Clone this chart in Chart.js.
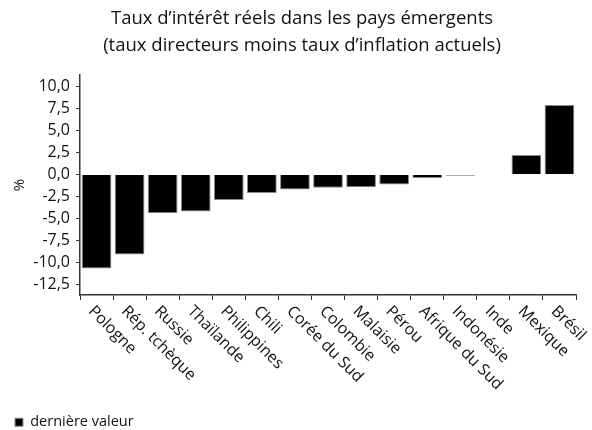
<!DOCTYPE html>
<html lang="fr">
<head>
<meta charset="utf-8">
<title>Taux d'intérêt réels</title>
<script src="https://cdn.jsdelivr.net/npm/chart.js@4.4.1/dist/chart.umd.min.js"></script>
<style>
  html, body { margin: 0; padding: 0; background: #fff; }
  #cadre { width: 592px; height: 430px; }
</style>
</head>
<body>
<div id="cadre"><canvas id="grafique"></canvas></div>
<script>
const pays = ["Pologne", "Rép. tchèque", "Russie", "Thaïlande", "Philippines", "Chili",
    "Corée du Sud", "Colombie", "Malaisie", "Pérou", "Afrique du Sud", "Indonésie",
    "Inde", "Mexique", "Brésil"];
const derniereValeur = [-10.7, -9.1, -4.4, -4.2, -2.9, -2.1, -1.7, -1.5, -1.45, -1.15,
    -0.4, -0.15, 0.05, 2.2, 7.9];
const graduationsY = [10, 7.5, 5, 2.5, 0, -2.5, -5, -7.5, -10, -12.5];
const titre = ["Taux d’intérêt réels dans les pays émergents",
    "(taux directeurs moins taux d’inflation actuels)"];
const police = '"Open Sans", "DejaVu Sans", sans-serif';

// les libellés des pays penchent vers le bas à droite, Chart.js ne sait pas le faire
const etiquettesX = {
    id: "etiquettesX",
    afterDraw(chart) {
        const ctx = chart.ctx;
        const axeX = chart.scales.x;
        ctx.save();
        ctx.font = "16px " + police;
        ctx.fillStyle = "#111";
        ctx.textAlign = "left";
        ctx.textBaseline = "top";
        pays.forEach((nom, i) => {
            ctx.save();
            ctx.translate(axeX.getPixelForValue(i), axeX.top + 8);
            ctx.rotate(Math.PI / 4);
            ctx.fillText(nom, 0, 0);
            ctx.restore();
        });
        ctx.restore();
    },
};

new Chart(document.getElementById("grafique"), {
    type: "bar",
    data: {
        labels: pays,
        datasets: [
            {
                label: "dernière valeur",
                data: derniereValeur,
                backgroundColor: "#000",
                borderColor: "#8c8c8c",
                borderWidth: 1,
                barPercentage: 0.9,
                categoryPercentage: 1.0,
            },
        ],
    },
    options: {
        responsive: true,
        maintainAspectRatio: false,
        animation: false,
        layout: { padding: { left: 12, right: 0, top: 0, bottom: 0 } },
        plugins: {
            title: {
                display: true,
                text: titre,
                color: "#111",
                font: { family: police, size: 18.5, weight: "normal", lineHeight: 1.46 },
                padding: { top: 5, bottom: 16 },
            },
            legend: {
                position: "bottom",
                align: "start",
                maxHeight: 18,
                labels: {
                    boxWidth: 8,
                    boxHeight: 8,
                    padding: 3,
                    color: "#111",
                    font: { family: police, size: 14.5 },
                },
            },
            tooltip: { enabled: false },
        },
        scales: {
            x: {
                grid: { display: true, drawOnChartArea: false, tickLength: 5, color: "#333" },
                border: { display: true, color: "#333", width: 1.5 },
                ticks: { display: false },
                afterFit: (axe) => { axe.height = 117; },
            },
            y: {
                min: -13.7,
                max: 11.3,
                afterBuildTicks: (axe) => {
                    axe.ticks = graduationsY.map((v) => ({ value: v }));
                },
                grid: { display: true, drawOnChartArea: false, tickLength: 4, color: "#333" },
                border: { display: true, color: "#333", width: 1.5 },
                ticks: {
                    padding: 6,
                    color: "#111",
                    font: { family: police, size: 16 },
                    callback: (v) => v.toFixed(1).replace(".", ","),
                },
                title: {
                    display: true,
                    text: "%",
                    color: "#111",
                    font: { family: police, size: 15, lineHeight: 16 / 15 },
                    padding: 0,
                },
                afterFit: (axe) => { axe.width = 68; },
            },
            // axe vide à droite : il ne sert qu'à laisser la marge droite du graphique
            marge: {
                position: "right",
                display: true,
                grid: { display: false },
                border: { display: false },
                ticks: { display: false },
                afterFit: (axe) => { axe.width = 16; },
            },
        },
    },
    plugins: [etiquettesX],
});
</script>
</body>
</html>
